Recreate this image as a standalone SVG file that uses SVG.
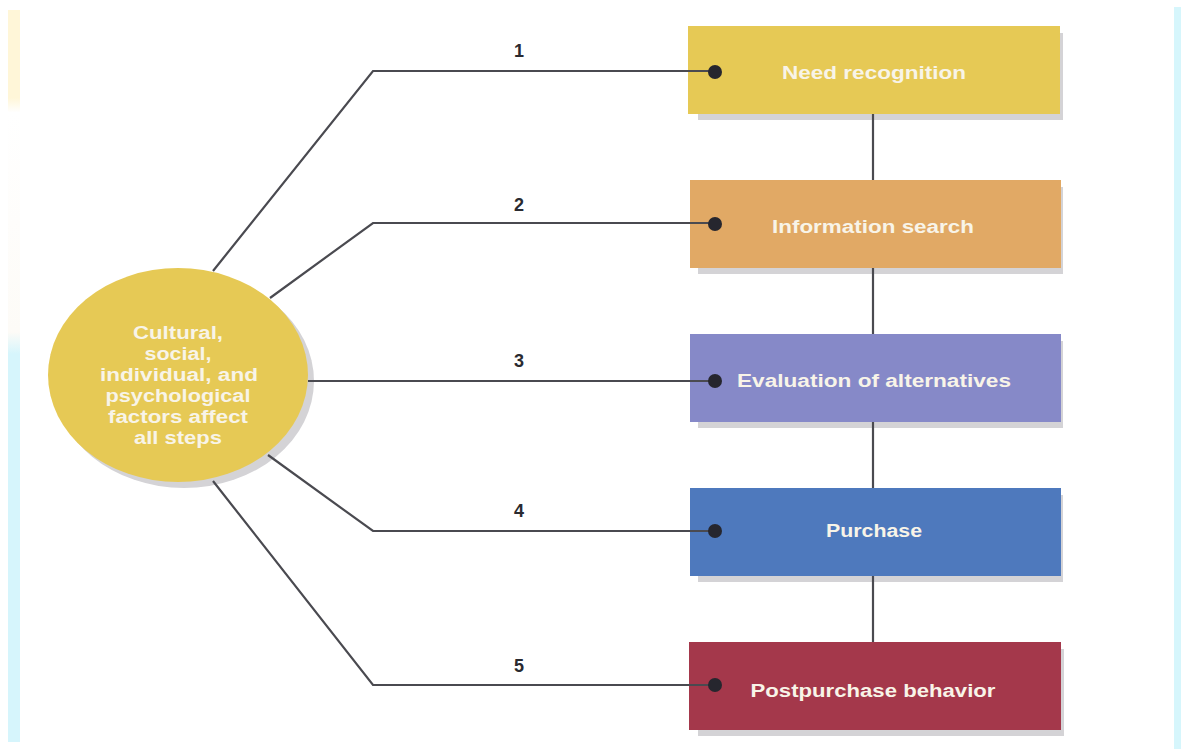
<svg xmlns="http://www.w3.org/2000/svg" width="1183" height="749" viewBox="0 0 1183 749">
<defs>
<linearGradient id="lstrip" x1="0" y1="0" x2="0" y2="1">
<stop offset="0" stop-color="#fff6d8"/>
<stop offset="0.12" stop-color="#fff6d8"/>
<stop offset="0.14" stop-color="#ffffff"/>
<stop offset="0.44" stop-color="#fdfbf7"/>
<stop offset="0.47" stop-color="#d6f5fc"/>
<stop offset="1" stop-color="#d6f5fc"/>
</linearGradient>
</defs>
<style>
.box{stroke:none}
.shadow{fill:#d4d3d6}
.lbl{font-family:"Liberation Sans",Arial,sans-serif;font-weight:bold;font-size:18px;fill:#f8f4e8;text-anchor:middle}
.num{font-family:"Liberation Sans",Arial,sans-serif;font-weight:bold;font-size:18px;fill:#2a2a30;text-anchor:middle}
.ln{fill:none;stroke:#4a4a50;stroke-width:2.2}
.dot{fill:#26262e}
</style>
<rect width="1183" height="749" fill="#ffffff"/>
<rect x="8" y="10" width="12" height="732" fill="url(#lstrip)"/>
<rect x="1174" y="7" width="7" height="742" fill="#d6f6fc"/>

<g id="factors">
<ellipse class="shadow" cx="184" cy="381" rx="130" ry="107"/>
<ellipse cx="178" cy="375" rx="130" ry="107" fill="#e6c955"/>
<text class="lbl" x="178" y="339" textLength="90" lengthAdjust="spacingAndGlyphs">Cultural,</text>
<text class="lbl" x="178" y="360" textLength="67" lengthAdjust="spacingAndGlyphs">social,</text>
<text class="lbl" x="179" y="381" textLength="158" lengthAdjust="spacingAndGlyphs">individual, and</text>
<text class="lbl" x="178" y="402" textLength="145" lengthAdjust="spacingAndGlyphs">psychological</text>
<text class="lbl" x="178" y="423" textLength="140" lengthAdjust="spacingAndGlyphs">factors affect</text>
<text class="lbl" x="178" y="444" textLength="88" lengthAdjust="spacingAndGlyphs">all steps</text>
</g>

<g id="need">
<rect class="shadow" x="698" y="33" width="365" height="87"/>
<rect class="box" x="688" y="26" width="372" height="88" fill="#e6c955"/>
<text class="lbl" x="874" y="79" textLength="184" lengthAdjust="spacingAndGlyphs">Need recognition</text>
</g>
<g id="search">
<rect class="shadow" x="698" y="187" width="365" height="87"/>
<rect class="box" x="690" y="180" width="371" height="88" fill="#e1a965"/>
<text class="lbl" x="873" y="233" textLength="202" lengthAdjust="spacingAndGlyphs">Information search</text>
</g>
<g id="evaluation">
<rect class="shadow" x="698" y="341" width="365" height="87"/>
<rect class="box" x="690" y="334" width="371" height="88" fill="#8689c8"/>
<text class="lbl" x="874" y="387" textLength="274" lengthAdjust="spacingAndGlyphs">Evaluation of alternatives</text>
</g>
<g id="purchase">
<rect class="shadow" x="698" y="495" width="365" height="87"/>
<rect class="box" x="690" y="488" width="371" height="88" fill="#4e79bd"/>
<text class="lbl" x="874" y="537" textLength="96" lengthAdjust="spacingAndGlyphs">Purchase</text>
</g>
<g id="postpurchase">
<rect class="shadow" x="698" y="649" width="366" height="87"/>
<rect class="box" x="689" y="642" width="372" height="88" fill="#a4384b"/>
<text class="lbl" x="873" y="697" textLength="245" lengthAdjust="spacingAndGlyphs">Postpurchase behavior</text>
</g>

<g id="connectors">
<line class="ln" x1="873" y1="114" x2="873" y2="180"/>
<line class="ln" x1="873" y1="268" x2="873" y2="334"/>
<line class="ln" x1="873" y1="422" x2="873" y2="488"/>
<line class="ln" x1="873" y1="576" x2="873" y2="642"/>
<polyline class="ln" points="213,271 373,71 715,71"/>
<polyline class="ln" points="270,298 373,223 715,223"/>
<polyline class="ln" points="308,381 715,381"/>
<polyline class="ln" points="268,455 373,531 715,531"/>
<polyline class="ln" points="213,481 373,685 715,685"/>
<circle class="dot" cx="715" cy="72" r="7"/>
<circle class="dot" cx="715" cy="224" r="7"/>
<circle class="dot" cx="715" cy="381" r="7"/>
<circle class="dot" cx="715" cy="531" r="7"/>
<circle class="dot" cx="715" cy="685" r="7"/>
<text class="num" x="519" y="57">1</text>
<text class="num" x="519" y="211">2</text>
<text class="num" x="519" y="367">3</text>
<text class="num" x="519" y="517">4</text>
<text class="num" x="519" y="672">5</text>
</g>
</svg>
